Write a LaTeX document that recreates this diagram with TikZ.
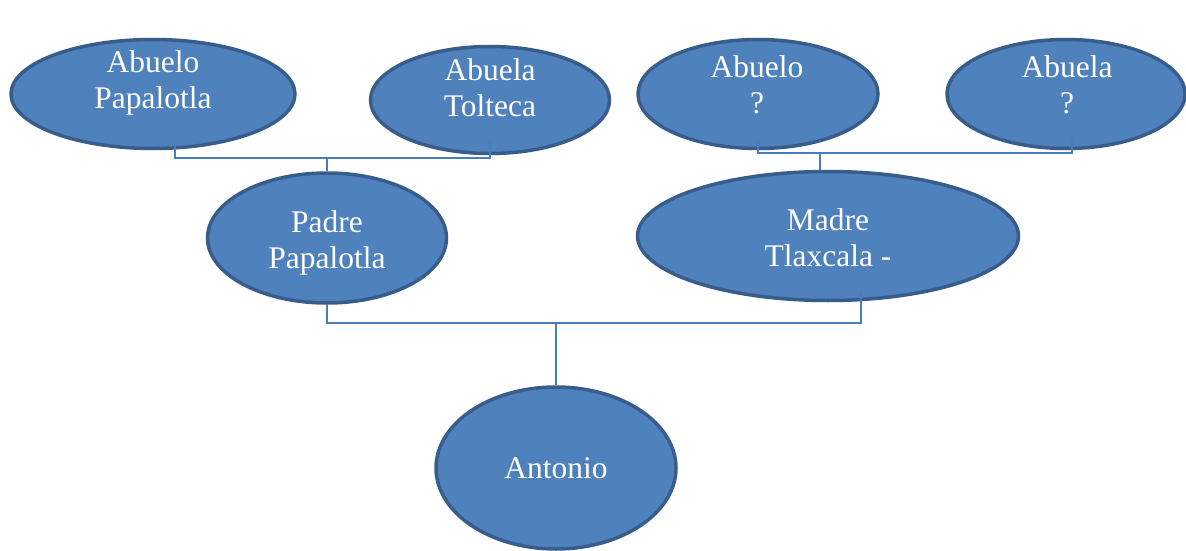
\documentclass[tikz,border=0pt]{standalone}
\usepackage{fontspec}
\setmainfont{Liberation Serif}
\usetikzlibrary{shapes.geometric}
\definecolor{fillblue}{HTML}{4F81BD}
\definecolor{edgeblue}{HTML}{385D8A}
\definecolor{lineblue}{HTML}{4A7EBB}
\begin{document}
\begin{tikzpicture}[x=1pt,y=-1pt,
  person/.style={ellipse, draw=edgeblue, fill=fillblue, line width=3.5pt, inner sep=0pt},
  lbl/.style={text=white, font=\fontsize{31.5}{36}\selectfont, align=center, inner sep=0pt},
  conn/.style={draw=lineblue, line width=1.6pt}]
\useasboundingbox (0,0) rectangle (1186,551);
% nodes
\node[person, minimum width=284pt, minimum height=109pt] (ap) at (153,94) {};
\node[person, minimum width=239pt, minimum height=107pt] (ab) at (490,100) {};
\node[person, minimum width=240pt, minimum height=109pt] (aq) at (758,94) {};
\node[person, minimum width=238pt, minimum height=109pt] (bq) at (1066,94) {};
\node[person, minimum width=239pt, minimum height=130pt] (pa) at (327,238) {};
\node[person, minimum width=381pt, minimum height=129pt] (ma) at (828,236) {};
\node[person, minimum width=240pt, minimum height=162pt] (an) at (556,468) {};
% labels
\node[lbl] (tap) at (153,83) {Abuelo\\Papalotla};
\node[lbl] (tab) at (490,88) {Abuela\\Tolteca};
\node[lbl] (taq) at (757,85) {Abuelo\\?};
\node[lbl] (tbq) at (1067,85) {Abuela\\?};
\node[lbl] (tpa) at (327,243) {Padre\\Papalotla};
\node[lbl] (tma) at (828,238) {Madre\\Tlaxcala -};
\node[lbl] (tan) at (556,468) {Antonio};
% junctions
\coordinate (j1) at (327,158);
\coordinate (j2) at (820,153);
\coordinate (j3) at (556,323);
% connectors
\draw[conn] ([xshift=22pt,yshift=7pt]ap.south) |- (j1) -| ([yshift=14pt]ab.south);
\draw[conn] (j1) -- (pa.north);
\draw[conn] ([yshift=10pt]aq.south) |- (j2) -| ([xshift=6pt,yshift=10pt]bq.south);
\draw[conn] (j2) -- (j2 |- ma.north);
\draw[conn] (pa.south) |- (j3) -| ([xshift=33pt,yshift=10pt]ma.south);
\draw[conn] (j3) -- (an.north);
\end{tikzpicture}
\end{document}
